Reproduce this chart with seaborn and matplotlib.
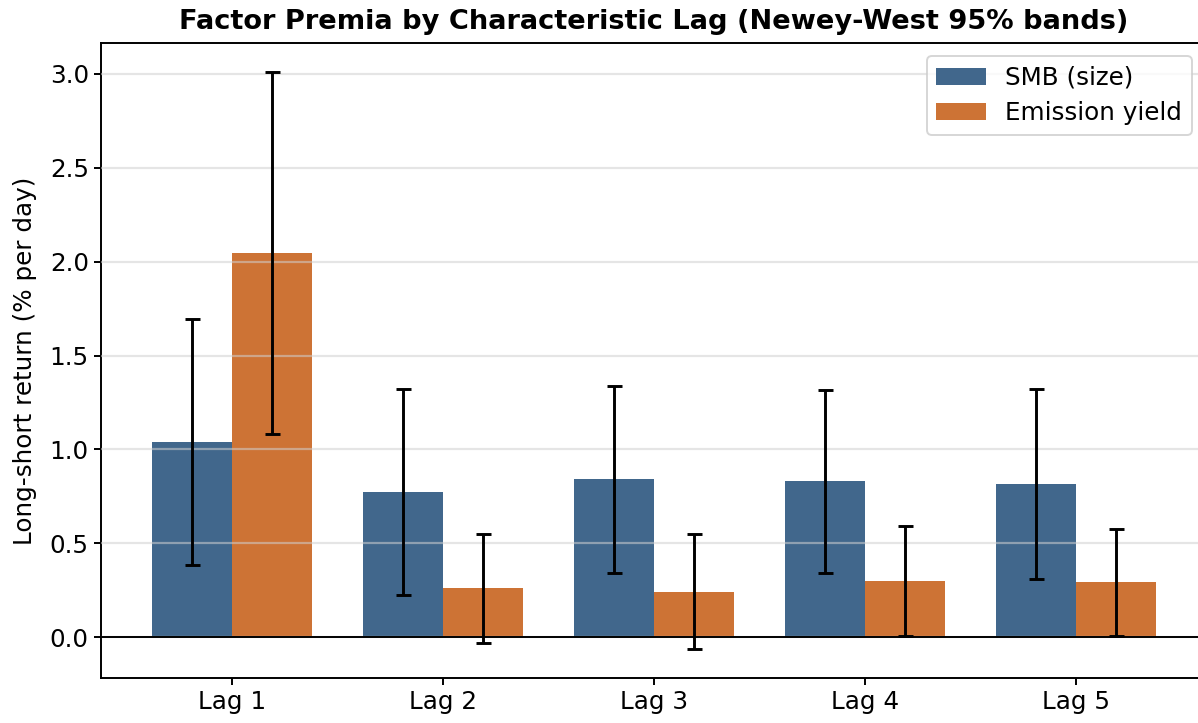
import matplotlib
matplotlib.use("Agg")
import matplotlib.pyplot as plt
import seaborn as sns
import pandas as pd
import numpy as np

lags = ["Lag 1", "Lag 2", "Lag 3", "Lag 4", "Lag 5"]
series = ["SMB (size)", "Emission yield"]
smb_mean = [1.039, 0.772, 0.840, 0.830, 0.814]
smb_half = [0.653, 0.549, 0.499, 0.487, 0.507]
ey_mean = [2.046, 0.259, 0.241, 0.298, 0.292]
ey_half = [0.962, 0.288, 0.306, 0.292, 0.284]
colors = ["#41678c", "#cd7335"]

df = pd.DataFrame({
    "lag": lags * 2,
    "series": [series[0]] * 5 + [series[1]] * 5,
    "value": smb_mean + ey_mean,
    "half": smb_half + ey_half,
})

sns.set_style("white")
plt.rcParams["font.family"] = ["DejaVu Sans"]
plt.rcParams["text.color"] = "black"
plt.rcParams["axes.labelcolor"] = "black"
plt.rcParams["xtick.color"] = "black"
plt.rcParams["ytick.color"] = "black"

W, H = 1198, 723
fig = plt.figure(figsize=(W / 100, H / 100), dpi=100)
ax = fig.add_axes([101 / W, 45 / H, (1207 - 101) / W, (678 - 43) / H])

sns.barplot(data=df, x="lag", y="value", hue="series", order=lags,
            hue_order=series, palette=colors, width=0.76, saturation=1,
            errorbar=None, ax=ax, linewidth=0)

# error bars at bar centres
for s, means, halves in [(series[0], smb_mean, smb_half), (series[1], ey_mean, ey_half)]:
    cont = ax.containers[series.index(s)]
    xs = [p.get_x() + p.get_width() / 2 for p in cont.patches]
    ax.errorbar(xs, means, yerr=halves, fmt="none", ecolor="black",
                elinewidth=2.1, capsize=5.4, capthick=2.1, zorder=5)

ax.axhline(0, color="black", lw=1.4, zorder=4)
ax.set_axisbelow(False)
ax.yaxis.grid(True, color="#d0d0d0", alpha=0.55, lw=1.6, zorder=3)
ax.xaxis.grid(False)

ax.set_xlim(-0.62, 4.62)
ax.set_ylim(-0.218, 3.165)
ax.set_yticks([0.0, 0.5, 1.0, 1.5, 2.0, 2.5, 3.0])
ax.set_yticklabels([f"{v:.1f}" for v in [0.0, 0.5, 1.0, 1.5, 2.0, 2.5, 3.0]])
ax.tick_params(axis="both", labelsize=17.7, length=5.3, width=1.4, direction="out",
               left=True, bottom=True, colors="black")
ax.set_xlabel("")
ax.set_ylabel("Long-short return (% per day)", fontsize=17.7, labelpad=9, color="black")
ax.set_title("Factor Premia by Characteristic Lag (Newey-West 95% bands)",
             fontsize=19.6, fontweight="bold", pad=10, color="black")
for sp in ax.spines.values():
    sp.set_color("black")
    sp.set_linewidth(1.4)
ax.spines["right"].set_visible(False)

leg = ax.legend(loc="upper right", bbox_to_anchor=((1192 - 101) / (1207 - 101), 1 - 13 / 635),
                fontsize=17.7, frameon=True, borderpad=0.4, handlelength=2.0,
                handletextpad=0.8, labelspacing=0.45, borderaxespad=0)
leg.get_frame().set_edgecolor("#cccccc")
leg.get_frame().set_linewidth(1.4)
leg.get_frame().set_alpha(0.8)
for t in leg.get_texts():
    t.set_color("black")

fig.savefig("out.png", dpi=100)
